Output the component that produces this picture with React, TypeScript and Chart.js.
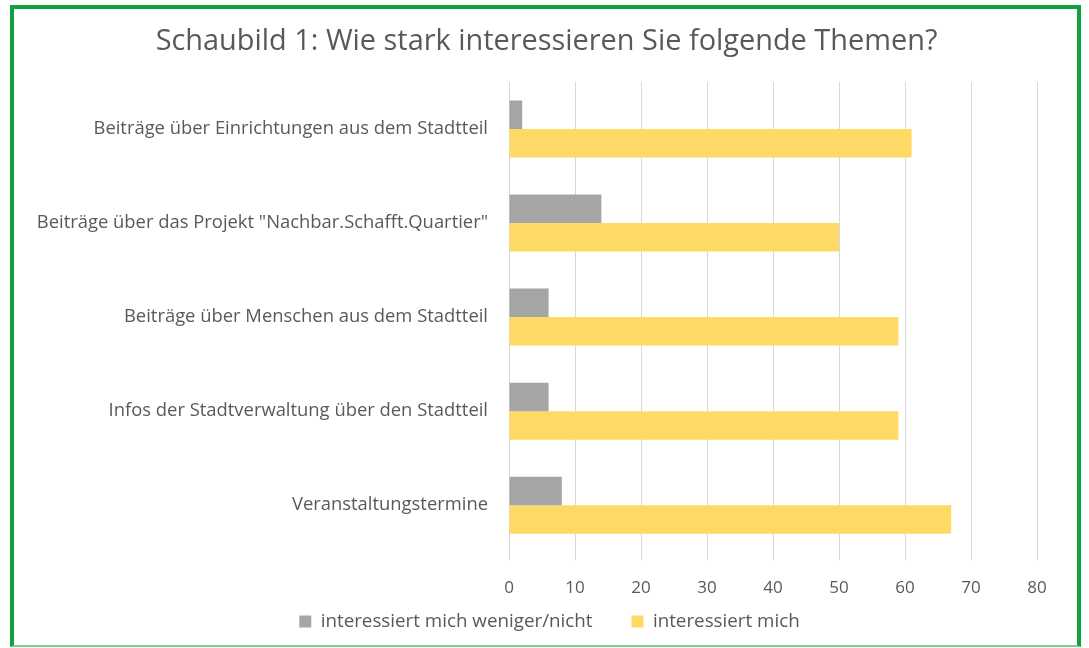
import React, { useEffect, useRef } from "react";
import { Chart, registerables } from "chart.js";

Chart.register(...registerables);

const titleText = "Schaubild 1: Wie stark interessieren Sie folgende Themen?";
const categories = [
  "Beiträge über Einrichtungen aus dem Stadtteil",
  'Beiträge über das Projekt "Nachbar.Schafft.Quartier"',
  "Beiträge über Menschen aus dem Stadtteil",
  "Infos der Stadtverwaltung über den Stadtteil",
  "Veranstaltungstermine",
];
const seriesNames = ["interessiert mich weniger/nicht", "interessiert mich"];
const notInterested = [2, 14, 6, 6, 8];
const interested = [61, 50, 59, 59, 67];
const xMin = 0;
const xMax = 80;
const xStep = 10;

const FONT = "'Open Sans', sans-serif";
const TEXT = "#595959";

const titlePlugin = {
  id: "centeredTitle",
  afterLayout(chart: any) {
    // let x tick labels draw below the (compact) x-axis box
    const x = chart.scales.x;
    if (x) {
      x.bottom = x.top + 60;
      x.height = 60;
    }
    // center the legend on the whole canvas like the title
    const lg = chart.legend;
    if (lg) {
      lg.left += 31;
      lg.right += 31;
    }
  },
  afterDraw(chart: any) {
    const ctx = chart.ctx;
    ctx.save();
    ctx.font = `28.9px ${FONT}`;
    ctx.fillStyle = TEXT;
    ctx.textAlign = "center";
    ctx.textBaseline = "middle";
    ctx.fillText(titleText, chart.width / 2 + 2, 42);
    ctx.restore();
  },
};

export default function App() {
  const ref = useRef<HTMLCanvasElement | null>(null);

  useEffect(() => {
    if (!ref.current) return;
    const chart = new Chart(ref.current, {
      type: "bar",
      data: {
        labels: categories,
        datasets: [
          {
            label: seriesNames[0],
            data: notInterested,
            backgroundColor: "#a5a5a5",
            borderWidth: 0,
          },
          {
            label: seriesNames[1],
            data: interested,
            backgroundColor: "#ffd966",
            borderWidth: 0,
          },
        ],
      },
      options: {
        indexAxis: "y",
        responsive: false,
        animation: false,
        maintainAspectRatio: false,
        datasets: {
          bar: { categoryPercentage: 0.606, barPercentage: 1 },
        },
        layout: { padding: { left: 0, right: 52, top: 82, bottom: 7 } },
        scales: {
          x: {
            min: xMin,
            max: xMax,
            ticks: {
              stepSize: xStep,
              color: TEXT,
              font: { family: FONT, size: 17 },
              padding: 18,
            },
            grid: {
              color: "#d9d9d9",
              lineWidth: 1,
              drawTicks: true,
              tickLength: 8,
              tickColor: "#d9d9d9",
            },
            border: { display: false },
            afterFit: (scale: any) => {
              scale.height = 21;
            },
          },
          y: {
            ticks: {
              color: TEXT,
              font: { family: FONT, size: 18.4 },
              padding: 21,
            },
            grid: { display: false, drawTicks: false },
            border: { display: false },
            afterFit: (scale: any) => {
              scale.width = 509;
            },
          },
        },
        plugins: {
          title: { display: false },
          legend: {
            position: "bottom",
            labels: {
              color: TEXT,
              font: { family: FONT, size: 18.8 },
              boxWidth: 12,
              boxHeight: 12,
              padding: 39,
            },
          },
          tooltip: { enabled: false },
        },
      },
      plugins: [titlePlugin],
    });
    return () => chart.destroy();
  }, []);

  return (
    <div
      style={{
        position: "fixed",
        left: 0,
        top: 0,
        width: 1089,
        height: 648,
        background: "#ffffff",
        overflow: "hidden",
      }}
    >
      <canvas
        ref={ref}
        width={1089}
        height={648}
        style={{ position: "absolute", left: 0, top: 0, display: "block" }}
      />
      <div
        style={{
          position: "absolute",
          left: 10,
          top: 5,
          width: 1071,
          height: 642,
          boxSizing: "border-box",
          borderTop: "4px solid #0fa03f",
          borderLeft: "4px solid #0fa03f",
          borderRight: "4px solid #0fa03f",
          borderBottom: "2px solid #7ccf94",
          pointerEvents: "none",
        }}
      />
    </div>
  );
}
